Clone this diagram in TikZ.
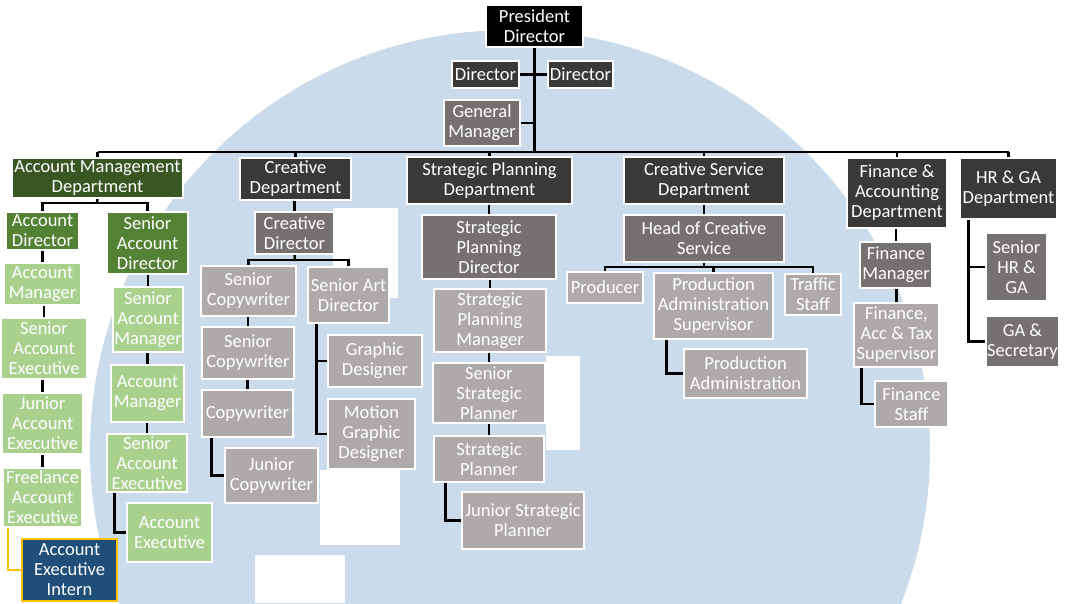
\documentclass[tikz,border=0pt]{standalone}
\usepackage{fontspec}
\setmainfont{Carlito}
\pgfdeclarelayer{back}
\pgfdeclarelayer{links}
\pgfsetlayers{back,links,main}
\definecolor{bgblue}{HTML}{CADCEC}
\definecolor{dkgreen}{HTML}{385723}
\definecolor{mdgreen}{HTML}{548235}
\definecolor{ltgreen}{HTML}{A9D18E}
\definecolor{dkgray}{HTML}{3B3838}
\definecolor{mdgray}{HTML}{767171}
\definecolor{ltgray}{HTML}{AEAAAA}
\definecolor{navyblue}{HTML}{1F4E79}
\definecolor{goldline}{HTML}{FFC000}
\tikzset{
 box/.style={draw=white, line width=1.5pt, text=white, inner sep=0pt, align=center, font=\fontsize{18.5}{20}\selectfont},
 presbox/.style={box, fill=black},
 dkbox/.style={box, fill=dkgray},
 mdbox/.style={box, fill=mdgray},
 ltbox/.style={box, fill=ltgray},
 gdkbox/.style={box, fill=dkgreen},
 gmdbox/.style={box, fill=mdgreen},
 gltbox/.style={box, fill=ltgreen},
 internbox/.style={box, fill=navyblue, draw=goldline, line width=2pt},
 link/.style={draw=black, line width=2.5pt},
 goldlink/.style={draw=goldline, line width=2pt},
}
\newcommand\orgbox[7]{\node[#6, minimum width={#4pt-#2pt}, minimum height={#5pt-#3pt}] (#1) at ({(#2+#4)/2},{(#3+#5)/2}) {#7};}
\begin{document}
\begin{tikzpicture}[x=1pt,y=-1pt]
\useasboundingbox (0,0) rectangle (1065,603);
% boxes
\orgbox{pres}{486}{5}{583}{47}{presbox}{President\\Director}
\orgbox{dirL}{452}{61}{519}{88}{dkbox}{Director}
\orgbox{dirR}{548}{61}{613}{88}{dkbox}{Director}
\orgbox{gm}{444}{100}{520}{146}{mdbox}{General\\Manager}
\orgbox{amd}{12}{158}{183}{198}{gdkbox}{Account Management\\Department}
\orgbox{cdept}{240}{158}{351}{200}{dkbox}{Creative\\Department}
\orgbox{spdept}{407}{157}{572}{204}{dkbox}{Strategic Planning\\Department}
\orgbox{csdept}{624}{157}{784}{204}{dkbox}{Creative Service\\Department}
\orgbox{fadept}{847}{158}{947}{228}{dkbox}{Finance \&\\Accounting\\Department}
\orgbox{hrdept}{960}{158}{1057}{219}{dkbox}{HR \& GA\\Department}
% account management
\orgbox{ad}{6}{212}{79}{250}{gmdbox}{Account\\Director}
\orgbox{sad}{107}{212}{188}{274}{gmdbox}{Senior\\Account\\Director}
\orgbox{amA}{4}{263}{81}{305}{gltbox}{Account\\Manager}
\orgbox{saeA}{1}{318}{87}{379}{gltbox}{Senior\\Account\\Executive}
\orgbox{jae}{2}{393}{83}{454}{gltbox}{Junior\\Account\\Executive}
\orgbox{fae}{3}{468}{82}{527}{gltbox}{Freelance\\Account\\Executive}
\orgbox{intern}{22}{539}{117}{601}{internbox}{Account\\Executive\\Intern}
\orgbox{sam}{113}{287}{183}{352}{gltbox}{Senior\\Account\\Manager}
\orgbox{amB}{111}{365}{184}{422}{gltbox}{Account\\Manager}
\orgbox{saeB}{107}{434}{187}{492}{gltbox}{Senior\\Account\\Executive}
\orgbox{aeB}{127}{503}{212}{562}{gltbox}{Account\\Executive}
% creative
\orgbox{cd}{255}{212}{334}{254}{mdbox}{Creative\\Director}
\orgbox{scA}{201}{266}{296}{316}{ltbox}{Senior\\Copywriter}
\orgbox{sartd}{308}{267}{389}{323}{ltbox}{Senior Art\\Director}
\orgbox{scB}{202}{327}{294}{379}{ltbox}{Senior\\Copywriter}
\orgbox{cw}{202}{390}{293}{437}{ltbox}{Copywriter}
\orgbox{jcw}{225}{448}{318}{503}{ltbox}{Junior\\Copywriter}
\orgbox{gd}{328}{335}{422}{387}{ltbox}{Graphic\\Designer}
\orgbox{mgd}{328}{399}{415}{469}{ltbox}{Motion\\Graphic\\Designer}
% strategic planning
\orgbox{spd}{422}{215}{556}{279}{mdbox}{Strategic\\Planning\\Director}
\orgbox{spm}{434}{289}{546}{352}{ltbox}{Strategic\\Planning\\Manager}
\orgbox{ssp}{433}{363}{545}{423}{ltbox}{Senior\\Strategic\\Planner}
\orgbox{sp}{434}{436}{544}{482}{ltbox}{Strategic\\Planner}
\orgbox{jsp}{462}{492}{584}{549}{ltbox}{Junior Strategic\\Planner}
% creative service
\orgbox{hcs}{624}{215}{784}{262}{mdbox}{Head of Creative\\Service}
\orgbox{prod}{567}{272}{643}{303}{ltbox}{Producer}
\orgbox{pas}{654}{273}{773}{339}{ltbox}{Production\\Administration\\Supervisor}
\orgbox{traffic}{785}{274}{841}{315}{ltbox}{Traffic\\Staff}
\orgbox{pa}{684}{349}{807}{398}{ltbox}{Production\\Administration}
% finance
\orgbox{fm}{860}{242}{932}{288}{mdbox}{Finance\\Manager}
\orgbox{fats}{854}{303}{939}{367}{ltbox}{Finance,\\Acc \& Tax\\Supervisor}
\orgbox{fs}{875}{381}{948}{427}{ltbox}{Finance\\Staff}
% HR
\orgbox{shrga}{986}{233}{1047}{301}{mdbox}{Senior\\HR \&\\GA}
\orgbox{gasec}{986}{316}{1059}{367}{mdbox}{GA \&\\Secretary}
% connectors
\begin{pgfonlayer}{links}
\coordinate (bus) at (535,152);
\draw[link] (pres.south) -- (pres.south |- bus);
\draw[link] (dirL.east) -- (dirR.west);
\draw[link] (gm.east) -- (gm.east -| pres.south);
\draw[link] (amd.north |- bus) -- (hrdept.north |- bus);
\foreach \d in {amd,cdept,spdept,csdept,fadept,hrdept}
  \draw[link] (\d.north) -- (\d.north |- bus);
% account management
\coordinate (amb) at (97,203);
\draw[link] (amd.south) -- (amb);
\draw[link] (ad.north) |- (amb) -| (sad.north);
\draw[link] (amA.north) -- (amA.north |- ad.south);
\draw[link] (saeA.north) -- (saeA.north |- amA.south);
\draw[link] (jae.north) -- (jae.north |- saeA.south);
\draw[link] (fae.north) -- (fae.north |- jae.south);
\draw[link] (sam.north) -- (sam.north |- sad.south);
\draw[link] (amB.north) -- (amB.north |- sam.south);
\draw[link] (saeB.north) -- (saeB.north |- amB.south);
\coordinate (saeBl) at ([xshift=8pt]saeB.south west);
\draw[link] (saeBl) |- (aeB.west);
\coordinate (faeL) at ([xshift=6pt]fae.south west);
\draw[goldlink] (faeL) |- (intern.west);
% creative
\coordinate (cb) at (295,260);
\draw[link] (cd.north) -- (cd.north |- cdept.south);
\draw[link] (cd.south) -- (cb);
\draw[link] (scA.north) |- (cb) -| (sartd.north);
\draw[link] (scB.north) -- (scB.north |- scA.south);
\draw[link] (cw.north) -- (cw.north |- scB.south);
\coordinate (cwl) at ([xshift=10pt]cw.south west);
\draw[link] (cwl) |- (jcw.west);
\coordinate (sadl) at ([xshift=9pt]sartd.south west);
\draw[link] (sadl) |- (mgd.west);
\draw[link] (sadl |- gd.west) -- (gd.west);
% strategic
\draw[link] (spd.north) -- (spd.north |- spdept.south);
\draw[link] (spm.north) -- (spm.north |- spd.south);
\draw[link] (ssp.north) -- (ssp.north |- spm.south);
\draw[link] (sp.north) -- (sp.north |- ssp.south);
\coordinate (spl) at ([xshift=12pt]sp.south west);
\draw[link] (spl) |- (jsp.west);
% creative service
\coordinate (csb) at (704,267);
\draw[link] (hcs.north) -- (hcs.north |- csdept.south);
\draw[link] (hcs.south) -- (csb);
\draw[link] (prod.north) |- (csb) -| (traffic.north);
\draw[link] (pas.north) -- (pas.north |- csb);
\coordinate (pasl) at ([xshift=13pt]pas.south west);
\draw[link] (pasl) |- (pa.west);
% finance
\draw[link] (fm.north) -- (fm.north |- fadept.south);
\draw[link] (fats.north) -- (fats.north |- fm.south);
\coordinate (fatsl) at ([xshift=8pt]fats.south west);
\draw[link] (fatsl) |- (fs.west);
% HR
\coordinate (hrl) at ([xshift=9pt]hrdept.south west);
\draw[link] (hrl) |- (gasec.west);
\draw[link] (hrl |- shrga.west) -- (shrga.west);
\end{pgfonlayer}
% background
\begin{pgfonlayer}{back}
\fill[white] (0,0) rectangle (1065,603);
\begin{scope}
\clip (0,0) rectangle (1065,603);
\fill[bgblue] (510,450) circle[radius=420pt];
\fill[white] (333,208) rectangle (398,298);
\fill[white] (546,356) rectangle (580,450);
\fill[white] (320,470) rectangle (400,545);
\fill[white] (255,555) rectangle (345,603);
\end{scope}
\end{pgfonlayer}
\end{tikzpicture}
\end{document}
